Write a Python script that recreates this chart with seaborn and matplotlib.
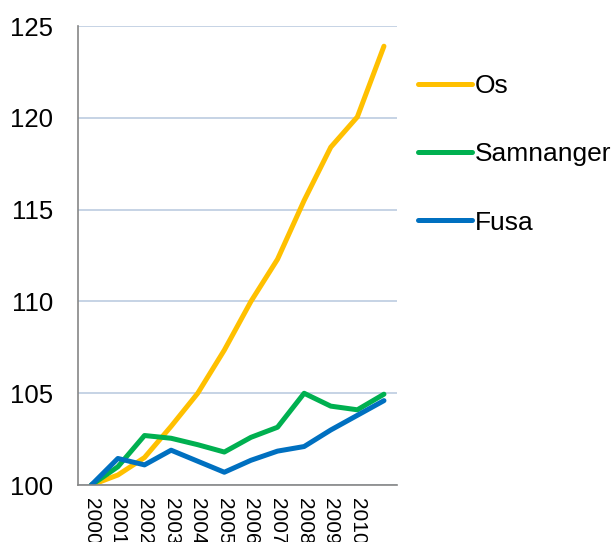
import numpy as np
import pandas as pd
import matplotlib
matplotlib.use("Agg")
import matplotlib.pyplot as plt
import seaborn as sns

# values (index, 2000 = 100)
years = [str(y) for y in range(2000, 2012)]
os_vals = [100.0, 100.55, 101.5, 103.2, 105.0, 107.35, 110.0, 112.3, 115.5, 118.4, 120.05, 123.9]
samnanger_vals = [100.0, 101.0, 102.7, 102.55, 102.2, 101.8, 102.6, 103.15, 105.0, 104.3, 104.1, 104.95]
fusa_vals = [100.0, 101.45, 101.1, 101.9, 101.3, 100.7, 101.35, 101.85, 102.1, 103.0, 103.8, 104.6]

series_names = ["Os", "Samnanger", "Fusa"]
series_colors = ["#FFC000", "#00B050", "#0070C0"]

df = pd.DataFrame({"pos": np.arange(len(years)), "Os": os_vals,
                   "Samnanger": samnanger_vals, "Fusa": fusa_vals})
df_long = df.melt(id_vars="pos", var_name="kommune", value_name="indeks")

sns.set_style("white")
plt.rcParams["font.family"] = ["Liberation Sans", "DejaVu Sans"]
plt.rcParams["text.color"] = "black"
plt.rcParams["xtick.labelcolor"] = "black"
plt.rcParams["ytick.labelcolor"] = "black"

fig = plt.figure(figsize=(6.14, 5.42), dpi=100)
ax = fig.add_axes([0.127, 0.105, 0.52, 0.847])

sns.lineplot(data=df_long, x="pos", y="indeks", hue="kommune",
             hue_order=series_names, palette=dict(zip(series_names, series_colors)),
             linewidth=3.6, ax=ax, legend=False)

ax.set_xlim(-0.5, len(years) - 0.5)
ax.set_ylim(100, 125)
ax.set_yticks([100, 105, 110, 115, 120, 125])
ax.yaxis.grid(True, color="#BCCCE0", linewidth=1.2)
ax.set_axisbelow(True)

# category labels centred, tick marks between categories
ax.set_xticks(np.arange(len(years)))
ax.set_xticklabels(years[:-1] + [""], rotation=270, fontsize=15)
ax.set_xticks(np.arange(len(years) + 1) - 0.5, minor=True)
ax.tick_params(axis="x", which="major", length=0, pad=9, labelcolor="black")
ax.tick_params(axis="x", which="minor", length=6, width=1.2, color="#868686", direction="out")
ax.tick_params(axis="y", length=6, width=1.2, color="#868686", direction="out",
               labelsize=18.5, pad=12, labelcolor="black")
for t in ax.get_xticklabels():
    t.set_va("top")

for side in ["top", "right"]:
    ax.spines[side].set_visible(False)
for side in ["left", "bottom"]:
    ax.spines[side].set_color("#868686")
    ax.spines[side].set_linewidth(1.2)
ax.set_xlabel("")
ax.set_ylabel("")

handles = [plt.Line2D([], [], color=c, linewidth=3.6, solid_capstyle="round") for c in series_colors]
fig.legend(handles, series_names, loc="upper left", bbox_to_anchor=(0.664, 0.883),
           frameon=False, fontsize=19, handlelength=2.05, handletextpad=0.1,
           labelspacing=1.68, borderaxespad=0, labelcolor="black")

fig.savefig("out.png", dpi=100)
